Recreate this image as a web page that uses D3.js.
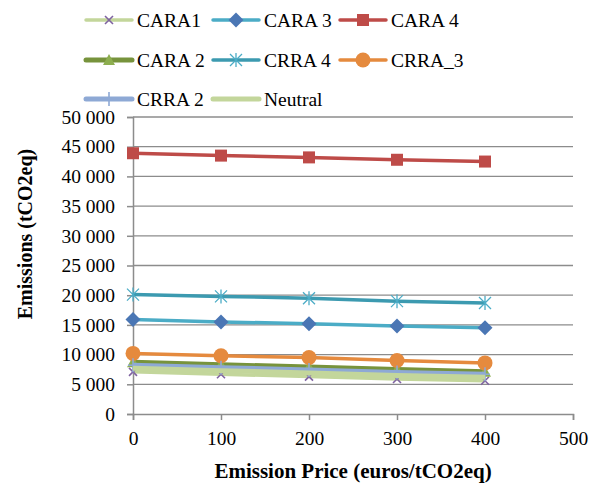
<!DOCTYPE html>
<html><head><meta charset="utf-8">
<script src="https://cdn.jsdelivr.net/npm/d3@7"></script>
<style>body{margin:0;background:#fff}svg{display:block}</style>
</head><body>
<svg id="c" width="591" height="488"></svg>
<script>
const prices = [0, 100, 200, 300, 400];
const xTicks = [0, 100, 200, 300, 400, 500];
const yTicks = [0, 5000, 10000, 15000, 20000, 25000, 30000, 35000, 40000, 45000, 50000];
const seriesNames = ["CARA1", "CARA 3", "CARA 4", "CARA 2", "CRRA 4", "CRRA_3", "CRRA 2", "Neutral"];
const cara1 = [7100, 6700, 6300, 5900, 5600];
const cara3 = [15900, 15500, 15200, 14800, 14500];
const cara4 = [43900, 43500, 43200, 42800, 42500];
const cara2 = [8700, 8300, 7900, 7500, 7100];
const crra4 = [20100, 19800, 19500, 19000, 18700];
const crra3 = [10200, 9800, 9500, 9000, 8600];
const crra2 = [8200, 7800, 7400, 7000, 6700];
const neutral = [7700, 7300, 6900, 6500, 6200];

const styles = {
  "CARA1":  {line:"#C3D69B", w:3.5, marker:"x", mc:"#7F63A1"},
  "CARA 3": {line:"#4BACC6", w:3.5, marker:"diamond", mc:"#4A76B4"},
  "CARA 4": {line:"#BE4B48", w:3.5, marker:"square", mc:"#BE4B48"},
  "CARA 2": {line:"#77933C", w:5, marker:"triangle", mc:"#8DAE4F"},
  "CRRA 4": {line:"#3C9AB0", w:3.5, marker:"star", mc:"#4BACC6"},
  "CRRA_3": {line:"#E58A3E", w:3.5, marker:"circle", mc:"#E58A3E"},
  "CRRA 2": {line:"#8EA9D5", w:5, marker:"plus", mc:"#8EA9D5"},
  "Neutral":{line:"#C3D69B", w:5, marker:"none", mc:"#C3D69B"}
};
const data = {"CARA1":cara1,"CARA 3":cara3,"CARA 4":cara4,"CARA 2":cara2,"CRRA 4":crra4,"CRRA_3":crra3,"CRRA 2":crra2,"Neutral":neutral};

const svg = d3.select("#c");
const m = {l:133, r:573, t:117, b:414};
const x = d3.scaleLinear().domain([0,500]).range([m.l, m.r]);
const y = d3.scaleLinear().domain([0,50000]).range([m.b, m.t]);
const grid = "#8C8C8C";
const font = "'Liberation Serif',serif";

// gridlines
svg.append("g").selectAll("line").data(yTicks.filter(d=>d>0)).join("line")
  .attr("x1", m.l).attr("x2", m.r).attr("y1", d=>y(d)).attr("y2", d=>y(d))
  .attr("stroke", grid).attr("stroke-width", 1.3);

// axes
const yAxis = svg.append("g").attr("transform",`translate(${m.l},0)`)
  .call(d3.axisLeft(y).tickValues(yTicks).tickSize(6).tickPadding(12).tickFormat(d=>d3.format(",")(d).replace(/,/g," ")));
const xAxis = svg.append("g").attr("transform",`translate(0,${m.b})`)
  .call(d3.axisBottom(x).tickValues(xTicks).tickSize(6).tickPadding(11));
[yAxis, xAxis].forEach(a=>{
  a.attr("font-family", font).attr("font-size", 19.5);
  a.select(".domain").attr("stroke", grid).attr("stroke-width",1.5);
  a.selectAll(".tick line").attr("stroke", grid).attr("stroke-width",1.5);
  a.selectAll("text").attr("font-family", font).attr("font-size", 19.5).attr("fill","#000");
});

// marker drawing
function drawMarker(g, type, cx, cy, color) {
  if (type === "square") g.append("rect").attr("x",cx-6).attr("y",cy-6).attr("width",12).attr("height",12).attr("fill",color);
  else if (type === "diamond") g.append("path").attr("d",`M${cx},${cy-7.5}L${cx+7.5},${cy}L${cx},${cy+7.5}L${cx-7.5},${cy}Z`).attr("fill",color);
  else if (type === "circle") g.append("circle").attr("cx",cx).attr("cy",cy).attr("r",7.5).attr("fill",color);
  else if (type === "triangle") g.append("path").attr("d",`M${cx},${cy-6}L${cx+6},${cy+5}L${cx-6},${cy+5}Z`).attr("fill",color);
  else if (type === "x") {
    g.append("path").attr("d",`M${cx-4},${cy-4}L${cx+4},${cy+4}M${cx-4},${cy+4}L${cx+4},${cy-4}`).attr("stroke",color).attr("stroke-width",1.6);
  } else if (type === "star") {
    g.append("path").attr("d",`M${cx-6},${cy-6}L${cx+6},${cy+6}M${cx-6},${cy+6}L${cx+6},${cy-6}M${cx},${cy-7}L${cx},${cy+7}`).attr("stroke",color).attr("stroke-width",1.3);
  } else if (type === "plus") {
    g.append("path").attr("d",`M${cx},${cy-7}L${cx},${cy+7}M${cx-5},${cy}L${cx+5},${cy}`).attr("stroke",color).attr("stroke-width",1.6);
  }
}

const line = d3.line().x((d,i)=>x(prices[i])).y(d=>y(d));
const plot = svg.append("g");
seriesNames.forEach(name=>{
  const s = styles[name];
  const g = plot.append("g");
  g.append("path").datum(data[name]).attr("d", line).attr("fill","none")
    .attr("stroke", s.line).attr("stroke-width", s.w).attr("stroke-linejoin","round");
  if (s.marker !== "none") data[name].forEach((v,i)=>drawMarker(g, s.marker, x(prices[i]), y(v), s.mc));
});

// axis titles
svg.append("text").attr("x", 353).attr("y", 478).attr("text-anchor","middle")
  .attr("font-family", font).attr("font-weight","bold").attr("font-size", 21).text("Emission Price (euros/tCO2eq)");
svg.append("text").attr("transform","translate(32,234) rotate(-90)").attr("text-anchor","middle")
  .attr("font-family", font).attr("font-weight","bold").attr("font-size", 20).text("Emissions (tCO2eq)");

// legend
const legCols = [86, 213, 340];
const legRows = [20, 60, 99];
seriesNames.forEach((name,i)=>{
  const s = styles[name];
  const lx = legCols[i%3], ly = legRows[Math.floor(i/3)];
  const g = svg.append("g");
  g.append("line").attr("x1",lx).attr("x2",lx+46).attr("y1",ly).attr("y2",ly)
    .attr("stroke", s.line).attr("stroke-width", s.w).attr("stroke-linecap","round");
  if (s.marker !== "none") drawMarker(g, s.marker, lx+23, ly, s.mc);
  g.append("text").attr("x", lx+51).attr("y", ly+6.5).attr("font-family", font).attr("font-size", 19.5).text(name);
});
</script>
</body></html>
